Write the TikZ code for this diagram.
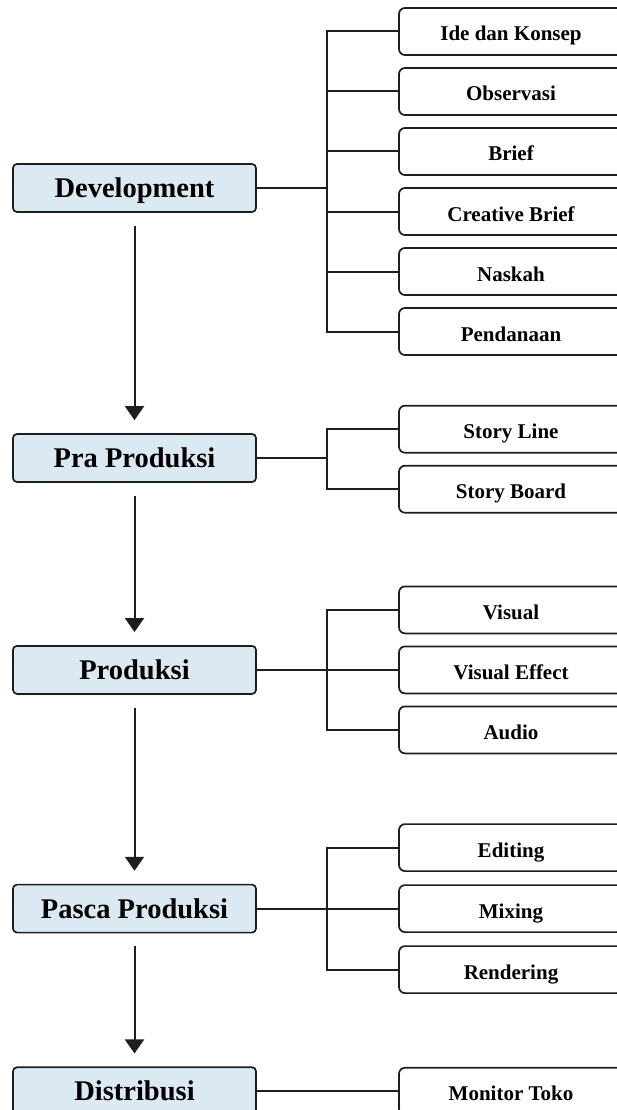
\documentclass[tikz,border=0pt]{standalone}
\usepackage{fontspec}
\setmainfont{Liberation Serif}
\usetikzlibrary{arrows.meta, positioning}

\definecolor{stagefill}{RGB}{218,233,242}
\definecolor{edgegray}{RGB}{30,30,30}

\tikzset{
  stage/.style={draw=edgegray, fill=stagefill, rounded corners=4pt, minimum width=243pt, minimum height=48pt,
    inner sep=0pt, text height=21pt, text depth=2pt, font=\bfseries\fontsize{28.5}{32}\selectfont},
  task/.style={draw=edgegray, fill=white, rounded corners=6pt, minimum width=224pt, minimum height=47pt,
    inner sep=0pt, text height=19pt, text depth=0pt, font=\bfseries\fontsize{21}{24}\selectfont},
  flow/.style={-{Triangle[width=19pt,length=14pt]}, shorten <=13pt, shorten >=13pt}
}

\begin{document}
\begin{tikzpicture}[node distance=60pt, line width=1.7pt, draw=edgegray]
\useasboundingbox (0,0) rectangle (616pt,-1110pt);

% sub steps
\node[task] (ide) at (511pt,-31.5pt) {Ide dan Konsep};
\node[task] (obs) [below of=ide] {Observasi};
\node[task] (brief) [below of=obs] {Brief};
\node[task] (cbrief) [below of=brief] {Creative Brief};
\node[task] (naskah) [below of=cbrief] {Naskah};
\node[task] (dana) [below of=naskah] {Pendanaan};

\node[task] (sline) [below=49pt of dana] {Story Line};
\node[task] (sboard) [below of=sline] {Story Board};

\node[task] (visual) [below=72pt of sboard] {Visual};
\node[task] (vfx) [below of=visual] {Visual Effect};
\node[task] (audio) [below of=vfx] {Audio};

\node[task] (edit) [below=69pt of audio] {Editing};
\node[task] (mix) [below of=edit, node distance=61pt] {Mixing};
\node[task] (render) [below of=mix, node distance=61pt] {Rendering};

\node[task] (monitor) [below=73pt of render] {Monitor Toko};

% main stages
\node[stage] (dev) at (134.5pt,-188pt) {Development};
\node[stage] (pra) [below of=dev, node distance=270pt] {Pra Produksi};
\node[stage] (prod) at (dev |- vfx) {Produksi};
\node[stage] (pasca) at (dev |- mix) {Pasca Produksi};
\node[stage] (distr) at (dev |- monitor) {Distribusi};

\coordinate[right=70pt of dev.east] (b1);

% links
\begin{scope}[line width=2pt]
\draw[flow] (dev) -- (pra);
\draw[flow] (pra) -- (prod);
\draw[flow] (prod) -- (pasca);
\draw[flow] (pasca) -- (distr);

\draw (dev.east) -- (b1);
\draw (ide.west) -| (b1) |- (dana.west);
\draw (obs.west) -- (obs.west -| b1);
\draw (brief.west) -- (brief.west -| b1);
\draw (cbrief.west) -- (cbrief.west -| b1);
\draw (naskah.west) -- (naskah.west -| b1);

\draw (pra.east) -- (pra.east -| b1);
\draw (sline.west) -| (b1 |- pra) |- (sboard.west);

\draw (prod.east) -- (vfx.west);
\draw (visual.west) -| (b1 |- vfx) |- (audio.west);

\draw (pasca.east) -- (mix.west);
\draw (edit.west) -| (b1 |- mix) |- (render.west);

\draw (distr.east) -- (monitor.west);
\end{scope}
\end{tikzpicture}
\end{document}
